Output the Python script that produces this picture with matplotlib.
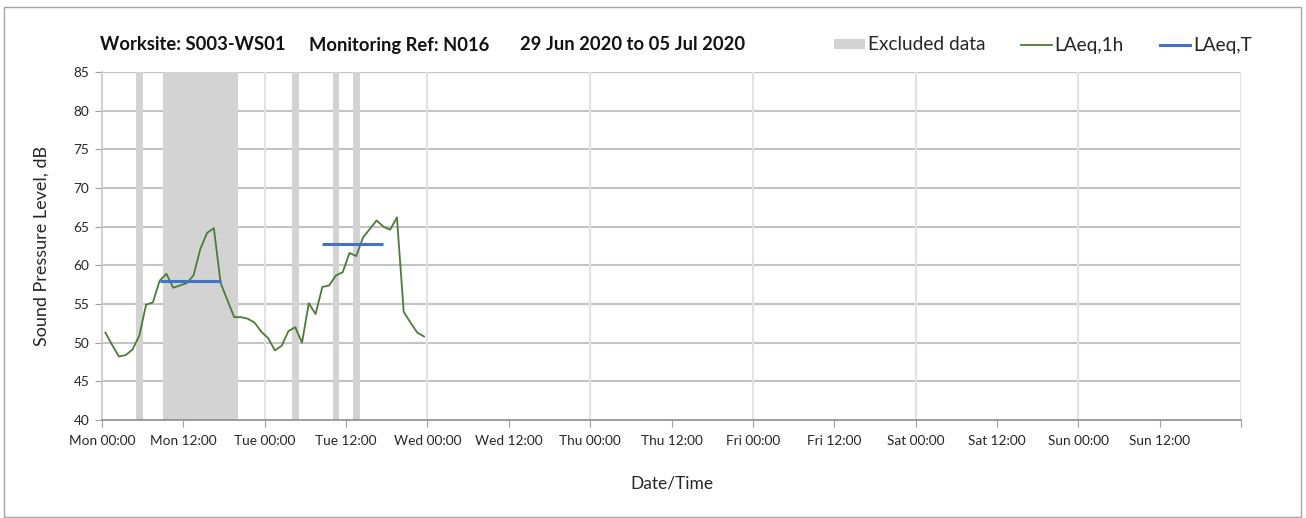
import matplotlib
matplotlib.use("Agg")
import matplotlib.pyplot as plt
from matplotlib.patches import Patch, Rectangle
from matplotlib.lines import Line2D

plt.rcParams["font.family"] = ["Lato", "DejaVu Sans"]

# hours since Mon 00:00 (hourly values plotted at mid-hour)
hours = [h + 0.5 for h in range(48)]
laeq_1h = [51.3, 49.7, 48.2, 48.4, 49.1, 50.9, 54.9, 55.2, 58.0, 58.9,
           57.1, 57.4, 57.7, 58.7, 62.1, 64.2, 64.8, 57.7, 55.5, 53.3,
           53.3, 53.1, 52.6, 51.4, 50.6, 49.0, 49.6, 51.5, 52.0, 50.0,
           55.1, 53.7, 57.2, 57.4, 58.7, 59.1, 61.6, 61.2, 63.6, 64.7,
           65.8, 65.0, 64.6, 66.2, 54.0, 52.6, 51.3, 50.8]

# LAeq,T periods (start hour, end hour, level)
laeq_t_start = [8.5, 32.5]
laeq_t_end = [17.5, 41.5]
laeq_t_level = [58.0, 62.8]

# excluded data periods (start hour, end hour)
excl_start = [5, 9, 28, 34, 37]
excl_end = [6, 20, 29, 35, 38]

tick_hours = list(range(0, 168, 12))
tick_labels = ["Mon 00:00", "Mon 12:00", "Tue 00:00", "Tue 12:00",
               "Wed 00:00", "Wed 12:00", "Thu 00:00", "Thu 12:00",
               "Fri 00:00", "Fri 12:00", "Sat 00:00", "Sat 12:00",
               "Sun 00:00", "Sun 12:00"]
day_lines = list(range(24, 169, 24))

title_parts = ["Worksite: S003-WS01", "Monitoring Ref: N016", "29 Jun 2020 to 05 Jul 2020"]
title_x = [100, 309, 520]

W, H = 1306, 518
fig = plt.figure(figsize=(W / 100, H / 100), dpi=100)
ax = fig.add_axes([102 / W, 1 - 420 / H, (1241 - 102) / W, (420 - 72) / H])

# outer chart frame
fig.patches.append(Rectangle((4 / W, 1 / H), 1297 / W, 1 - 8 / H,
                             transform=fig.transFigure, fill=False,
                             edgecolor="#A6A6A6", linewidth=1.0))

excl_color = "#D3D3D3"
for s, e in zip(excl_start, excl_end):
    ax.axvspan(s, e, color=excl_color, lw=0, zorder=1)

for y in range(45, 86, 5):
    ax.axhline(y, color="#C4C4C4", lw=1.5, zorder=0.5)
for x in day_lines:
    ax.axvline(x, color="#E2E2E2", lw=1.5, zorder=0.5)

green = "#4F7A38"
blue = "#4472C4"
ax.plot(hours, laeq_1h, color=green, lw=1.3, zorder=3)
for s, e, lv in zip(laeq_t_start, laeq_t_end, laeq_t_level):
    ax.plot([s, e], [lv, lv], color=blue, lw=2.2, zorder=4, solid_capstyle="butt")

ax.set_xlim(0, 168)
ax.set_ylim(40, 85)
ax.set_yticks(range(40, 86, 5))
ax.set_xticks(tick_hours + [168])
ax.set_xticklabels(tick_labels + [""])
ax.tick_params(axis="both", direction="out", length=5, color="#A0A0A0",
               labelsize=9.8, labelcolor="#262626", pad=4)
ax.tick_params(axis="x", pad=6)

for side in ["top", "right"]:
    ax.spines[side].set_visible(False)
ax.spines["left"].set_color("#C8C8C8")
ax.spines["bottom"].set_color("#8C8C8C")
ax.spines["left"].set_linewidth(1.2)
ax.spines["bottom"].set_linewidth(1.2)

ax.set_xlabel("Date/Time", fontsize=12.5, color="#262626", labelpad=20)
ax.set_ylabel("Sound Pressure Level, dB", fontsize=13, color="#262626", labelpad=17)

for txt, x in zip(title_parts, title_x):
    fig.text(x / W, 1 - 45 / H, txt, fontsize=13.2, fontweight="bold",
             color="#111111", va="center", ha="left")

handles = [Patch(facecolor=excl_color, edgecolor="none"),
           Line2D([], [], color=green, lw=1.3),
           Line2D([], [], color=blue, lw=2.2)]
labels = ["Excluded data", "LAeq,1h", "LAeq,T"]
fig.legend(handles, labels, loc="center right", bbox_to_anchor=(1252 / W, 1 - 45 / H),
           ncol=3, frameon=False, fontsize=13.7, handlelength=1.6, handleheight=0.45,
           handletextpad=0.15, columnspacing=1.9, labelcolor="#262626",
           borderaxespad=0, borderpad=0)

fig.savefig("out.png", dpi=100, facecolor="white")
